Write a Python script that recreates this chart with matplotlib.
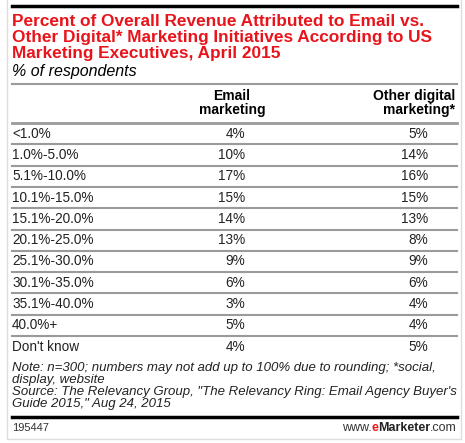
import matplotlib.pyplot as plt

title = "Percent of Overall Revenue Attributed to Email vs.\nOther Digital* Marketing Initiatives According to US\nMarketing Executives, April 2015"
subtitle = "% of respondents"
col_headers = ["Email\nmarketing", "Other digital\nmarketing*"]
ranges = ["<1.0%", "1.0%-5.0%", "5.1%-10.0%", "10.1%-15.0%", "15.1%-20.0%",
          "20.1%-25.0%", "25.1%-30.0%", "30.1%-35.0%", "35.1%-40.0%",
          "40.0%+", "Don't know"]
email = [4, 10, 17, 15, 14, 13, 9, 6, 3, 5, 4]
other = [5, 14, 16, 15, 13, 8, 9, 6, 4, 4, 5]
note = ("Note: n=300; numbers may not add up to 100% due to rounding; *social,\n"
        "display, website\n"
        "Source: The Relevancy Group, \"The Relevancy Ring: Email Agency Buyer's\n"
        "Guide 2015,\" Aug 24, 2015")

plt.rcParams['font.family'] = ['Liberation Sans', 'DejaVu Sans']
red = '#e8141b'
grey = '#9a9a9a'
ink = '#222222'

fig = plt.figure(figsize=(4.65, 4.43), dpi=100)
ax = fig.add_axes([0, 0, 1, 1])
ax.set_xlim(0, 465)
ax.set_ylim(443, 0)
ax.axis('off')

# light outer frame
ax.plot([7, 7, 461, 461], [0, 439, 439, 0], color='#dddddd', lw=1)

left, right = 12, 457
ax.plot([left, right], [6, 6], color='black', lw=2.5)
ax.text(left, 13.5, title, color=red, fontsize=12.4, fontweight='bold',
        va='top', ha='left', linespacing=1.1)
ax.text(left, 71, subtitle, fontsize=11.5, style='italic', va='center', ha='left')
ax.plot([left, right], [83.5, 83.5], color=grey, lw=1.5)

ax.text(232, 103, col_headers[0], fontsize=10, fontweight='bold', ha='center',
        va='center', linespacing=1.05)
ax.text(right - 2, 103, col_headers[1], fontsize=10, fontweight='bold', ha='right',
        va='center', linespacing=1.05)
ax.plot([left, right], [123, 123], color=grey, lw=2)

pitch = 21.3
top = 123
for i, (r, e, o) in enumerate(zip(ranges, email, other)):
    yc = top + pitch * (i + 0.5)
    ax.text(left, yc, r, fontsize=9.8, va='center', ha='left', color=ink)
    ax.text(245, yc, f"{e}%", fontsize=9.8, va='center', ha='right', color=ink)
    ax.text(428, yc, f"{o}%", fontsize=9.8, va='center', ha='right', color=ink)
    if i < len(ranges) - 1:
        ax.plot([left, right], [top + pitch * (i + 1)] * 2, color=grey, lw=1.5)

ax.text(left, 361.5, note, fontsize=9.5, style='italic', va='top', ha='left',
        linespacing=1.0, color=ink)
ax.plot([left, right], [417, 417], color='black', lw=2.5)
ax.text(left, 428, "195447", fontsize=8, va='center', ha='left', color='#333333')

# footer brand, pieced together right to left
fig.canvas.draw()
inv = ax.transData.inverted()
x = right
for s, w, c in [(".com", 'normal', '#333333'), ("Marketer", 'bold', ink),
                ("e", 'bold', red), ("www.", 'normal', '#333333')]:
    t = ax.text(x, 428, s, fontsize=9, fontweight=w, va='center', ha='right', color=c)
    x = inv.transform((t.get_window_extent().x0, 0))[0]

fig.savefig('out.png', dpi=100)
